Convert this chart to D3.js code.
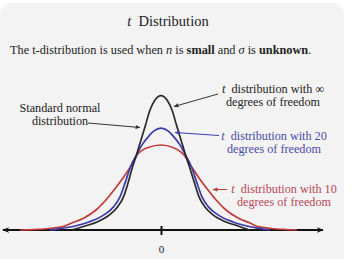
<!DOCTYPE html>
<html>
<head>
<meta charset="utf-8">
<script src="https://cdn.jsdelivr.net/npm/d3@7"></script>
<style>
  html, body { margin: 0; padding: 0; background: #fff; }
  svg { display: block; }
</style>
</head>
<body>
<div id="chart"></div>
<script>
// curves: [t, density]
const normalCurve = [
  [-2.97, 0], [-2.8, 0.0045], [-2.53, 0.012], [-2.13, 0.024], [-1.72, 0.045],
  [-1.45, 0.069], [-1.25, 0.099], [-1.1, 0.14], [-0.95, 0.188], [-0.817, 0.224],
  [-0.667, 0.269], [-0.517, 0.313], [-0.367, 0.358], [-0.2, 0.388], [0, 0.401],
  [0.2, 0.388], [0.367, 0.358], [0.517, 0.313], [0.667, 0.269], [0.817, 0.224],
  [0.95, 0.188], [1.117, 0.14], [1.267, 0.099], [1.467, 0.069], [1.733, 0.045],
  [2.167, 0.024], [2.567, 0.012], [2.8, 0.0045], [2.93, 0]
];
const t20Curve = [
  [-3.7, 0], [-3.3, 0.0051], [-2.87, 0.012], [-2.4, 0.024], [-1.9, 0.045],
  [-1.583, 0.069], [-1.367, 0.099], [-1.2, 0.14], [-1.017, 0.188], [-0.817, 0.224],
  [-0.633, 0.254], [-0.4, 0.281], [-0.233, 0.296], [0, 0.304],
  [0.233, 0.296], [0.4, 0.281], [0.633, 0.254], [0.817, 0.224], [1.017, 0.188],
  [1.2, 0.14], [1.367, 0.099], [1.583, 0.069], [1.9, 0.045], [2.4, 0.024],
  [2.867, 0.012], [3.27, 0.0051], [3.63, 0]
];
const t10Curve = [
  [-4.7, 0], [-4.2, 0.0015], [-3.7, 0.0045], [-3.27, 0.0099], [-2.97, 0.0209],
  [-2.567, 0.0358], [-2.167, 0.0597], [-1.867, 0.0866], [-1.567, 0.1194],
  [-1.267, 0.1552], [-1.017, 0.189], [-0.8, 0.2239], [-0.43, 0.2463], [0, 0.2537],
  [0.4, 0.2463], [0.767, 0.2239], [1.017, 0.189], [1.267, 0.1552], [1.567, 0.1194],
  [1.867, 0.0866], [2.167, 0.0597], [2.567, 0.0358], [2.967, 0.0209], [3.233, 0.0099],
  [3.667, 0.0045], [4.13, 0.0015], [4.53, 0]
];
const axisExtent = [-5.27, 5.4];
const tickValues = [0];

const width = 352;
const height = 259;
const serif = "'Liberation Serif', 'Times New Roman', 'DejaVu Serif', serif";

const svg = d3.select("#chart")
  .append("svg")
  .attr("width", width)
  .attr("height", height)
  .attr("font-family", serif);

const defs = svg.append("defs");
function marker(id, color) {
  defs.append("marker")
    .attr("id", id)
    .attr("viewBox", "0 0 10 10")
    .attr("refX", 9).attr("refY", 5)
    .attr("markerWidth", 5).attr("markerHeight", 5)
    .attr("orient", "auto-start-reverse")
    .attr("markerUnits", "userSpaceOnUse")
    .append("path")
    .attr("d", "M0,1 L10,5 L0,9 Z")
    .attr("fill", color);
}
marker("arrBlack", "#333");
marker("arrBlue", "#3c3ca8");
marker("arrRed", "#b83a3a");
defs.append("marker")
  .attr("id", "axisArrow")
  .attr("viewBox", "0 0 10 10")
  .attr("refX", 9).attr("refY", 5)
  .attr("markerWidth", 7).attr("markerHeight", 7)
  .attr("orient", "auto-start-reverse")
  .attr("markerUnits", "userSpaceOnUse")
  .append("path")
  .attr("d", "M0,1 L10,5 L0,9 L3,5 Z")
  .attr("fill", "#111");

// card background
svg.append("rect")
  .attr("x", 0).attr("y", 3)
  .attr("width", 344).attr("height", 270)
  .attr("rx", 11)
  .attr("fill", "#f3f3f3");

const x = d3.scaleLinear().domain([-5, 5]).range([11, 311]);
const y = d3.scaleLinear().domain([0, 0.4]).range([230, 96]);

// title
const title = svg.append("text")
  .attr("x", 168).attr("y", 26)
  .attr("text-anchor", "middle")
  .attr("font-family", serif)
  .attr("font-size", 14.5)
  .attr("fill", "#222");
title.append("tspan").attr("font-style", "italic").text("t");
title.append("tspan").text("\u2002Distribution");

// subtitle
const sub = svg.append("text")
  .attr("x", 10).attr("y", 54)
  .attr("font-family", serif)
  .attr("font-size", 12.3)
  .attr("fill", "#222");
const parts = [
  ["The t-distribution is used when ", null],
  ["n", "italic"],
  [" is ", null],
  ["small", "bold"],
  [" and ", null],
  ["\u03c3", "italic"],
  [" is ", null],
  ["unknown", "bold"],
  [".", null]
];
parts.forEach(([s, style]) => {
  const ts = sub.append("tspan").text(s);
  if (style === "italic") ts.attr("font-style", "italic");
  if (style === "bold") ts.attr("font-weight", "bold");
});

// axis
svg.append("line")
  .attr("x1", x(axisExtent[0])).attr("x2", x(axisExtent[1]))
  .attr("y1", y(0)).attr("y2", y(0))
  .attr("stroke", "#111").attr("stroke-width", 1.8)
  .attr("marker-start", "url(#axisArrow)")
  .attr("marker-end", "url(#axisArrow)");

const axis = svg.append("g")
  .attr("transform", `translate(0,${y(0)})`)
  .call(d3.axisBottom(x).tickValues(tickValues).tickSize(5).tickFormat(d3.format("d")));
axis.select(".domain").remove();
axis.selectAll(".tick line")
  .attr("y1", -4).attr("y2", 5)
  .attr("stroke", "#111").attr("stroke-width", 2);
axis.selectAll(".tick text")
  .attr("y", 15)
  .attr("font-family", serif)
  .attr("font-size", 11)
  .attr("fill", "#222");

// curves
const line = d3.line()
  .x(d => x(d[0]))
  .y(d => y(d[1]))
  .curve(d3.curveMonotoneX);

[[t10Curve, "#c23a3a"], [t20Curve, "#3a3aaa"], [normalCurve, "#2a2a2a"]]
  .forEach(([pts, color]) => {
    svg.append("path")
      .attr("d", line(pts))
      .attr("fill", "none")
      .attr("stroke", color)
      .attr("stroke-width", 1.7);
  });

// annotations
function label(lines, cx, y0, color, size) {
  const t = svg.append("text")
    .attr("text-anchor", "middle")
    .attr("font-family", serif)
    .attr("font-size", size)
    .attr("fill", color);
  lines.forEach((ln, i) => {
    const ts = t.append("tspan").attr("x", cx).attr("y", y0 + i * 13.3);
    if (ln[0] === "t" && ln[1] === " ") {
      ts.append("tspan").attr("font-style", "italic").text("t");
      ts.append("tspan").text("\u2002" + ln.slice(2));
    } else {
      ts.text(ln);
    }
  });
}
function arrow(x1, y1, x2, y2, color, id) {
  svg.append("line")
    .attr("x1", x1).attr("y1", y1).attr("x2", x2).attr("y2", y2)
    .attr("stroke", color).attr("stroke-width", 1)
    .attr("marker-end", `url(#${id})`);
}

label(["Standard normal", "distribution"], 60, 111.5, "#222", 12.2);
arrow(88, 123, 140, 127.5, "#333", "arrBlack");

label(["t distribution with \u221e", "degrees of freedom"], 273, 93, "#222", 12.2);
arrow(218, 94, 174, 106.5, "#333", "arrBlack");

label(["t distribution with 20", "degrees of freedom"], 274, 140, "#4a4aa6", 12.2);
arrow(219, 135.5, 175, 132.5, "#3c3ca8", "arrBlue");

label(["t distribution with 10", "degrees of freedom"], 284, 193, "#b8485a", 12.2);
arrow(227, 189.5, 213, 189.5, "#b83a3a", "arrRed");
</script>
</body>
</html>
